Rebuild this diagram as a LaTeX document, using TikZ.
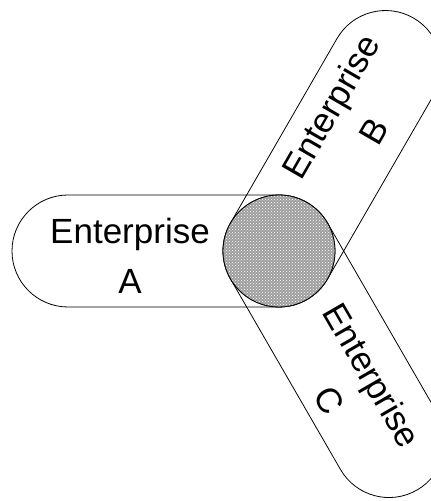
\documentclass[tikz,border=0pt]{standalone}
\usepackage{fontspec}
\setmainfont{Liberation Sans}
\usetikzlibrary{patterns}

\tikzset{
  arm/.style={draw=black, line width=0.8pt},
  hubfill/.style={draw=black, line width=0.8pt, fill=black!38},
  label/.style={align=center, font=\fontsize{35}{50}\selectfont, inner sep=0pt}
}

\begin{document}
\begin{tikzpicture}[x=1pt,y=1pt]
        \useasboundingbox (0,0) rectangle (431,501);

        % Centre of the overlap
        \coordinate (hub) at (279,250);

        % Enterprise A arm (pointing left)
        \begin{scope}[shift={(hub)},rotate=180]
          \draw[arm] (0,56) -- (211,56) arc[start angle=90, end angle=-90, radius=56pt]
            -- (0,-56) arc[start angle=270, end angle=90, radius=56pt] -- cycle;
        \end{scope}

        % Enterprise B arm (pointing up right)
        \begin{scope}[shift={(hub)},rotate=60]
          \draw[arm] (0,56) -- (213,56) arc[start angle=90, end angle=-90, radius=56pt]
            -- (0,-56) arc[start angle=270, end angle=90, radius=56pt] -- cycle;
        \end{scope}

        % Enterprise C arm (pointing down right)
        \begin{scope}[shift={(hub)},rotate=-60]
          \draw[arm] (0,56) -- (220,56) arc[start angle=90, end angle=-90, radius=56pt]
            -- (0,-56) arc[start angle=270, end angle=90, radius=56pt] -- cycle;
        \end{scope}

        % Shared part in the middle
        \fill[black!38] (hub) circle[radius=56pt];
        \fill[pattern=crosshatch dots, pattern color=white] (hub) circle[radius=56pt];
        \draw[arm] (hub) circle[radius=56pt];

        % Labels
        \node[label] (labA) at (130,245) {Enterprise\\A};
        \node[label, rotate=60] (labB) at (352,382) {Enterprise\\B};
        \node[label, rotate=-60] (labC) at (351,113) {Enterprise\\C};
\end{tikzpicture}
\end{document}
